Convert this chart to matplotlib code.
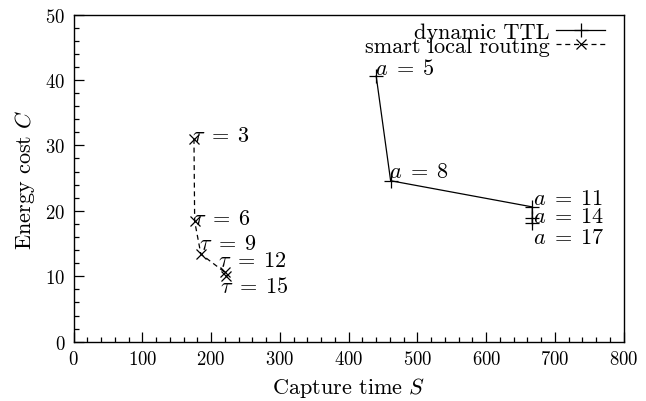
import matplotlib
matplotlib.use("Agg")
import matplotlib.pyplot as plt
from matplotlib.ticker import MultipleLocator

plt.rcParams['font.family'] = 'cmr10'
plt.rcParams['mathtext.fontset'] = 'cm'
plt.rcParams['axes.formatter.use_mathtext'] = True

# dynamic TTL (a = 5, 8, 11, 14, 17)
ttl_a = [5, 8, 11, 14, 17]
ttl_s = [440, 461, 667, 667, 667]
ttl_c = [40.6, 24.6, 20.6, 18.9, 18.2]
ttl_lab_s = [438, 458, 668, 668, 668]
ttl_lab_c = [41.8, 26.1, 22.0, 19.1, 15.9]

# smart local routing (tau = 3, 6, 9, 12, 15)
slr_tau = [3, 6, 9, 12, 15]
slr_s = [175, 176, 185, 220, 222]
slr_c = [31.0, 18.4, 13.4, 10.6, 10.0]
slr_lab_s = [172, 174, 182, 210, 213]
slr_lab_c = [31.5, 18.9, 15.1, 12.4, 8.5]

fig = plt.figure(figsize=(6.46, 4.02), dpi=100)
ax = fig.add_axes([0.114, 0.1475, 0.8515, 0.8139])

ax.plot(ttl_s, ttl_c, color='black', lw=0.9, marker='+', ms=10, mew=0.9,
        label='dynamic TTL')
ax.plot(slr_s, slr_c, color='black', lw=0.9, ls=(0, (4, 3)), marker='x',
        ms=7, mew=0.9, label='smart local routing')

for a, s, c in zip(ttl_a, ttl_lab_s, ttl_lab_c):
    ax.text(s, c, r'$a\;=\;%d$' % a, fontsize=16, ha='left', va='center')
for t, s, c in zip(slr_tau, slr_lab_s, slr_lab_c):
    ax.text(s, c, r'$\tau\;=\;%d$' % t, fontsize=16, ha='left', va='center')

ax.set_xlim(0, 800)
ax.set_ylim(0, 50)
ax.xaxis.set_major_locator(MultipleLocator(100))
ax.xaxis.set_minor_locator(MultipleLocator(20))
ax.yaxis.set_major_locator(MultipleLocator(10))
ax.yaxis.set_minor_locator(MultipleLocator(2))
ax.tick_params(which='both', direction='in', labelsize=13.5, width=0.9)
ax.tick_params(which='major', length=7, pad=6)
ax.tick_params(which='minor', length=3.5)
for sp in ax.spines.values():
    sp.set_linewidth(1.0)

ax.set_xlabel('Capture time $S$', fontsize=16, labelpad=5)
ax.set_ylabel('Energy cost $C$', fontsize=16, labelpad=6)

ax.legend(loc='upper right', bbox_to_anchor=(0.966, 0.975), frameon=False,
          markerfirst=False, fontsize=16, handlelength=2.2,
          labelspacing=-0.25, borderaxespad=0, borderpad=0,
          handletextpad=0.3)

fig.savefig('out.png', dpi=100)
